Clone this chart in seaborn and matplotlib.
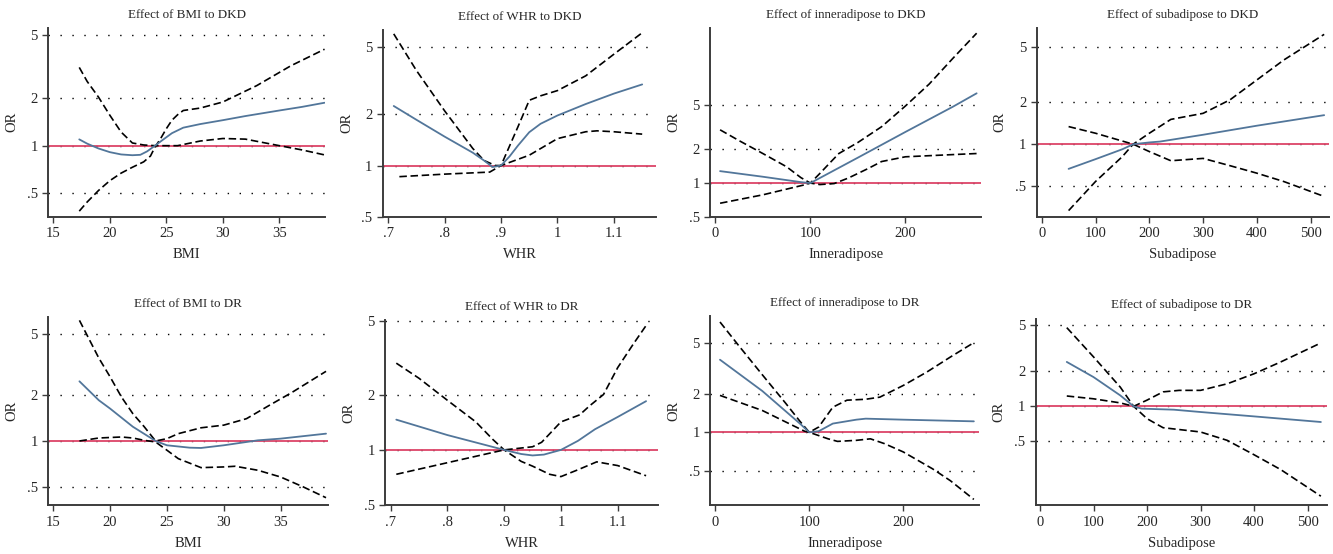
import matplotlib
matplotlib.use("Agg")
import matplotlib.pyplot as plt
import seaborn as sns
import numpy as np

# ---------------- data ----------------
# Panel 1: BMI -> DKD
bmi_dkd_x = [17.3, 18, 19, 20, 21, 22, 22.7, 23.3, 24, 24.7, 25.5, 26.5, 28, 30, 32, 35, 37, 39]
bmi_dkd_or = [1.096, 1.03, 0.96, 0.91, 0.88, 0.87, 0.875, 0.92, 1.0, 1.09, 1.2, 1.30, 1.37, 1.45, 1.54, 1.67, 1.76, 1.87]
bmi_dkd_a_x = [17.3, 18, 19, 20, 21, 22, 23, 24, 25, 26, 28, 30, 32, 35, 37, 39]
bmi_dkd_a = [3.13, 2.55, 2.03, 1.56, 1.22, 1.04, 1.01, 1.0, 1.0, 1.0, 1.07, 1.11, 1.10, 1.0, 0.94, 0.874]
bmi_dkd_b_x = [17.3, 18, 19, 20, 21, 22, 23, 23.6, 24, 24.5, 25, 25.5, 26, 26.5, 28, 30, 33, 36, 39]
bmi_dkd_b = [0.385, 0.44, 0.52, 0.6, 0.67, 0.73, 0.79, 0.86, 0.98, 1.11, 1.28, 1.45, 1.57, 1.67, 1.73, 1.89, 2.4, 3.2, 4.08]

# Panel 2: WHR -> DKD
whr_dkd_x = [0.71, 0.75, 0.8, 0.85, 0.87, 0.885, 0.9, 0.915, 0.93, 0.95, 0.97, 1.0, 1.05, 1.1, 1.15]
whr_dkd_or = [2.24, 1.86, 1.48, 1.19, 1.07, 0.98, 1.0, 1.13, 1.31, 1.57, 1.76, 1.97, 2.3, 2.65, 3.0]
whr_dkd_a_x = [0.71, 0.75, 0.8, 0.85, 0.87, 0.89, 0.9, 0.915, 0.93, 0.95, 0.97, 1.0, 1.05, 1.1, 1.15]
whr_dkd_a = [5.95, 3.63, 2.1, 1.26, 1.07, 1.0, 1.0, 1.3, 1.69, 2.42, 2.57, 2.76, 3.37, 4.52, 6.04]
whr_dkd_b_x = [0.72, 0.8, 0.88, 0.9, 0.95, 1.0, 1.05, 1.07, 1.1, 1.15]
whr_dkd_b = [0.86, 0.89, 0.915, 1.0, 1.15, 1.44, 1.58, 1.6, 1.58, 1.53]

# Panel 3: inneradipose -> DKD
inn_dkd_x = [5, 50, 90, 100, 150, 200, 250, 275]
inn_dkd_or = [1.28, 1.14, 1.02, 1.0, 1.69, 2.87, 4.83, 6.37]
inn_dkd_a_x = [5, 25, 50, 75, 90, 100, 110, 120, 130, 150, 175, 200, 225, 250, 275]
inn_dkd_a = [3.0, 2.4, 1.84, 1.4, 1.12, 1.0, 1.22, 1.5, 1.84, 2.31, 3.2, 4.9, 7.7, 13.1, 22.0]
inn_dkd_b_x = [5, 50, 95, 100, 110, 125, 140, 160, 175, 200, 250, 275]
inn_dkd_b = [0.66, 0.785, 0.97, 1.0, 0.97, 0.99, 1.11, 1.34, 1.56, 1.72, 1.8, 1.84]

# Panel 4: subadipose -> DKD
sub_dkd_x = [50, 100, 150, 170, 200, 220, 300, 400, 525]
sub_dkd_or = [0.664, 0.78, 0.92, 1.0, 1.03, 1.045, 1.17, 1.36, 1.62]
sub_dkd_a_x = [50, 100, 150, 170, 200, 240, 300, 350, 400, 450, 525]
sub_dkd_a = [0.332, 0.538, 0.815, 1.0, 1.2, 1.51, 1.67, 2.09, 2.91, 4.05, 6.2]
sub_dkd_b_x = [50, 100, 170, 200, 240, 300, 350, 400, 450, 525]
sub_dkd_b = [1.34, 1.2, 1.0, 0.885, 0.76, 0.79, 0.70, 0.618, 0.538, 0.42]

# Panel 5: BMI -> DR
bmi_dr_x = [17.3, 19, 20, 22, 24, 25, 27, 28, 30, 33, 35, 39]
bmi_dr_or = [2.46, 1.85, 1.63, 1.24, 1.0, 0.937, 0.904, 0.9, 0.937, 1.01, 1.036, 1.117]
bmi_dr_a_x = [17.3, 19, 20, 21, 22, 23, 24, 25, 26, 28, 30, 32, 34, 36, 39]
bmi_dr_a = [6.17, 3.5, 2.63, 1.94, 1.51, 1.24, 1.0, 1.036, 1.117, 1.22, 1.27, 1.4, 1.71, 2.08, 2.86]
bmi_dr_b_x = [17.3, 19, 21, 22, 23, 24, 25, 26, 28, 30, 31, 33, 35, 37, 39]
bmi_dr_b = [1.0, 1.046, 1.062, 1.046, 1.01, 0.985, 0.87, 0.766, 0.669, 0.676, 0.683, 0.643, 0.581, 0.5, 0.425]

# Panel 6: WHR -> DR
whr_dr_x = [0.71, 0.8, 0.9, 0.93, 0.95, 0.97, 1.0, 1.03, 1.06, 1.1, 1.15]
whr_dr_or = [1.46, 1.204, 1.0, 0.95, 0.933, 0.943, 1.0, 1.12, 1.295, 1.51, 1.84]
whr_dr_a_x = [0.71, 0.75, 0.8, 0.85, 0.88, 0.9, 0.93, 0.95, 0.98, 1.0, 1.03, 1.063, 1.1, 1.15]
whr_dr_a = [2.96, 2.45, 1.86, 1.42, 1.14, 1.0, 0.866, 0.816, 0.737, 0.716, 0.78, 0.861, 0.822, 0.724]
whr_dr_b_x = [0.71, 0.8, 0.85, 0.9, 0.95, 0.966, 1.0, 1.033, 1.05, 1.075, 1.1, 1.128, 1.15]
whr_dr_b = [0.737, 0.852, 0.923, 1.0, 1.04, 1.1, 1.42, 1.55, 1.73, 2.0, 2.8, 3.78, 4.74]

# Panel 7: inneradipose -> DR
inn_dr_x = [5, 50, 90, 100, 110, 125, 150, 160, 200, 275]
inn_dr_or = [3.68, 2.1, 1.17, 1.0, 1.02, 1.17, 1.255, 1.278, 1.255, 1.218]
inn_dr_a_x = [5, 25, 50, 75, 90, 100, 120, 130, 150, 165, 180, 200, 231, 250, 275]
inn_dr_a = [7.24, 4.73, 2.81, 1.68, 1.22, 1.0, 0.89, 0.85, 0.866, 0.89, 0.816, 0.703, 0.52, 0.42, 0.30]
inn_dr_b_x = [5, 50, 95, 100, 110, 125, 140, 160, 175, 200, 225, 250, 275]
inn_dr_b = [1.94, 1.48, 1.02, 1.0, 1.1, 1.57, 1.78, 1.81, 1.88, 2.32, 2.95, 3.86, 5.0]

# Panel 8: subadipose -> DR
sub_dr_x = [50, 100, 150, 175, 190, 250, 300, 400, 525]
sub_dr_or = [2.4, 1.78, 1.24, 1.0, 0.955, 0.936, 0.894, 0.82, 0.734]
sub_dr_a_x = [50, 100, 150, 175, 200, 230, 300, 350, 400, 450, 525]
sub_dr_a = [4.72, 2.65, 1.46, 1.0, 0.784, 0.656, 0.603, 0.511, 0.385, 0.287, 0.17]
sub_dr_b_x = [50, 100, 150, 175, 200, 230, 260, 300, 350, 400, 450, 525]
sub_dr_b = [1.226, 1.16, 1.07, 1.0, 1.13, 1.33, 1.37, 1.37, 1.56, 1.9, 2.4, 3.49]

titles = ["Effect of BMI to DKD", "Effect of WHR to DKD", "Effect of inneradipose to DKD",
          "Effect of subadipose to DKD", "Effect of BMI to DR", "Effect of WHR to DR",
          "Effect of inneradipose to DR", "Effect of subadipose to DR"]
xlabels = ["BMI", "WHR", "Inneradipose", "Subadipose"] * 2

bmi_ticks = [15, 20, 25, 30, 35]
bmi_ticklabels = ["15", "20", "25", "30", "35"]
whr_ticks = [0.7, 0.8, 0.9, 1.0, 1.1]
whr_ticklabels = [".7", ".8", ".9", "1", "1.1"]
inn_ticks = [0, 100, 200]
inn_ticklabels = ["0", "100", "200"]
sub_ticks = [0, 100, 200, 300, 400, 500]
sub_ticklabels = ["0", "100", "200", "300", "400", "500"]
y_ticks = [0.5, 1, 2, 5]
y_ticklabels = [".5", "1", "2", "5"]

# ---------------- layout (pixel boxes) ----------------
W, H = 1333, 554
panels = [
    # (left, right, top, bottom), xlim, ylim
    ((48.3, 325.0, 28, 216.7), (14.56, 39.04), (0.355, 5.56)),
    ((383.0, 656.3, 30, 216.7), (0.691, 1.175), (0.815, 6.27)),
    ((710.3, 981.0, 28, 216.7), (-5.3, 279.6), (0.5, 24.5)),
    ((1036.7, 1329.0, 28, 216.7), (-9.3, 534), (0.30, 6.89)),
    ((48.3, 328.3, 317, 505.3), (14.56, 39.2), (0.379, 6.49)),
    ((385.3, 658.0, 320, 505.3), (0.6906, 1.171), (0.5, 5.08)),
    ((710.3, 979.3, 316.3, 505.3), (-5.3, 280.8), (0.27, 8.02)),
    ((1035.7, 1327.3, 318.7, 505.3), (-8.1, 537), (0.142, 5.63)),
]

series = [
    (bmi_dkd_x, bmi_dkd_or, bmi_dkd_a_x, bmi_dkd_a, bmi_dkd_b_x, bmi_dkd_b, bmi_ticks, bmi_ticklabels),
    (whr_dkd_x, whr_dkd_or, whr_dkd_a_x, whr_dkd_a, whr_dkd_b_x, whr_dkd_b, whr_ticks, whr_ticklabels),
    (inn_dkd_x, inn_dkd_or, inn_dkd_a_x, inn_dkd_a, inn_dkd_b_x, inn_dkd_b, inn_ticks, inn_ticklabels),
    (sub_dkd_x, sub_dkd_or, sub_dkd_a_x, sub_dkd_a, sub_dkd_b_x, sub_dkd_b, sub_ticks, sub_ticklabels),
    (bmi_dr_x, bmi_dr_or, bmi_dr_a_x, bmi_dr_a, bmi_dr_b_x, bmi_dr_b, bmi_ticks, bmi_ticklabels),
    (whr_dr_x, whr_dr_or, whr_dr_a_x, whr_dr_a, whr_dr_b_x, whr_dr_b, whr_ticks, whr_ticklabels),
    (inn_dr_x, inn_dr_or, inn_dr_a_x, inn_dr_a, inn_dr_b_x, inn_dr_b, inn_ticks, inn_ticklabels),
    (sub_dr_x, sub_dr_or, sub_dr_a_x, sub_dr_a, sub_dr_b_x, sub_dr_b, sub_ticks, sub_ticklabels),
]

sns.set_theme(style="ticks")
plt.rcParams["font.family"] = ["Liberation Serif", "DejaVu Serif"]

BLUE = "#52769a"
RED = "#dc4468"
SPINE = "#3c3c3c"

fig = plt.figure(figsize=(W / 100, H / 100), dpi=100)
fig.patch.set_facecolor("white")

for i, ((l, r, t, b), xl, yl) in enumerate(panels):
    ax = fig.add_axes([l / W, 1 - b / H, (r - l) / W, (b - t) / H])
    ax.set_facecolor("white")
    xs, ys, xa, ya, xb, yb, xt, xtl = series[i]
    ax.set_yscale("log")
    for v in y_ticks:
        if yl[0] < v < yl[1]:
            ax.axhline(v, color="black", lw=1.0, linestyle=(0, (1, 7.6)), zorder=1)
    ax.axhline(1, color=RED, lw=1.3, zorder=2)
    sns.lineplot(x=xa, y=ya, ax=ax, color="black", lw=1.2, linestyle=(0, (4.5, 2.2)),
                 errorbar=None, zorder=3)
    sns.lineplot(x=xb, y=yb, ax=ax, color="black", lw=1.2, linestyle=(0, (4.5, 2.2)),
                 errorbar=None, zorder=3)
    sns.lineplot(x=xs, y=ys, ax=ax, color=BLUE, lw=1.3, errorbar=None, zorder=4)
    ax.set_xlim(*xl)
    ax.set_ylim(*yl)
    ax.set_yticks(y_ticks)
    ax.set_yticklabels(y_ticklabels)
    ax.minorticks_off()
    ax.set_xticks(xt)
    ax.set_xticklabels(xtl)
    ax.set_title(titles[i], fontsize=9.4, pad=7.5)
    ax.set_xlabel(xlabels[i], fontsize=10.5, labelpad=6)
    ax.set_ylabel("OR", fontsize=10.5, labelpad=6)
    ax.tick_params(axis="both", labelsize=10.5, length=4, width=1, color=SPINE, pad=3.5)
    for s in ["top", "right"]:
        ax.spines[s].set_visible(False)
    for s in ["left", "bottom"]:
        ax.spines[s].set_color(SPINE)
        ax.spines[s].set_linewidth(1.4)
    ax.grid(False)

fig.savefig("out.png", dpi=100, facecolor="white")
